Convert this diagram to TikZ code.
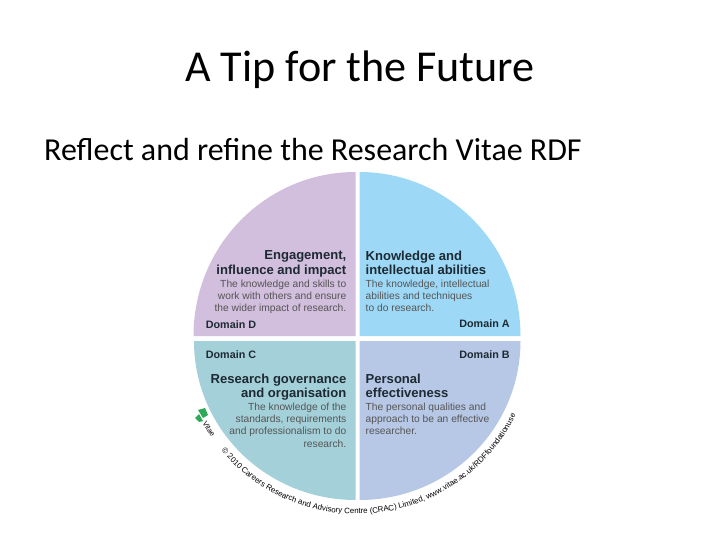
\documentclass[tikz,border=0pt]{standalone}
\usepackage{fontspec}
\setmainfont{Carlito}
\newfontfamily\arialf{Liberation Sans}
\usetikzlibrary{decorations.text}
\definecolor{qd}{HTML}{D2BEDD}
\definecolor{qa}{HTML}{9DD9F6}
\definecolor{qc}{HTML}{A4D0D9}
\definecolor{qb}{HTML}{B7C8E6}
\definecolor{bodycol}{HTML}{555555}
\definecolor{headcol}{HTML}{1E2A33}
\definecolor{logocol}{HTML}{2FA85A}
\tikzset{x=1bp,y=-1bp,
 slidetext/.style={inner sep=0pt,anchor=base west,text=black},
 headr/.style={inner sep=0pt,anchor=north east,align=right,font=\arialf\fontsize{13.1}{14.4}\selectfont\bfseries,text=headcol},
 headl/.style={inner sep=0pt,anchor=north west,align=left,font=\arialf\fontsize{13.1}{14.4}\selectfont\bfseries,text=headcol},
 bodyr/.style={inner sep=0pt,anchor=north east,align=right,font=\arialf\fontsize{10.3}{12.4}\selectfont,text=bodycol},
 bodyl/.style={inner sep=0pt,anchor=north west,align=left,font=\arialf\fontsize{10.3}{12.4}\selectfont,text=bodycol},
 domainlab/.style={inner sep=0pt,anchor=base,font=\arialf\fontsize{10.8}{12}\selectfont\bfseries,text=headcol}}
\begin{document}
\begin{tikzpicture}
\useasboundingbox (0,0) rectangle (720,540);
\fill[white] (0,0) rectangle (720,540);
% quadrants
\fill[qd] (355.5,336) -- (193.5,336) .. controls (193.5,245.4) and (266,172) .. (355.5,172) -- cycle;
\fill[qa] (359.5,336) -- (359.5,172) .. controls (448.5,172) and (520.5,245.4) .. (520.5,336) -- cycle;
\fill[qc] (355.5,341) -- (355.5,500) .. controls (266.3,500) and (194,428.8) .. (194,341) -- cycle;
\fill[qb] (359.5,341) -- (520.5,341) .. controls (520.5,428.8) and (448.5,500) .. (359.5,500) -- cycle;
% titles
\node[slidetext,font=\fontsize{44.3}{52}\selectfont] (title) at (185,82) {A Tip for the Future};
\node[slidetext,font=\fontsize{32.1}{38}\selectfont] (sub) at (44,161) {Reflect and refine the Research Vitae RDF};
% D
\node[headr] (dh) at (346.5,250.5) {Engagement,\\influence and impact};
\node[bodyr] (db) at (346.5,279.5) {The knowledge and skills to\\work with others and ensure\\the wider impact of research.};
\node[domainlab] (dd) at (231,328) {Domain D};
% A
\node[headl] (ah) at (365.5,250.5) {Knowledge and\\intellectual abilities};
\node[bodyl] (ab) at (365.5,279.5) {The knowledge, intellectual\\abilities and techniques\\to do research.};
\node[domainlab] (ad) at (484.5,327) {Domain A};
% C
\node[domainlab] (cd) at (231,358) {Domain C};
\node[headr] (ch) at (346.5,373.5) {Research governance\\and organisation};
\node[bodyr] (cb) at (346.5,402.5) {The knowledge of the\\standards, requirements\\and professionalism to do\\research.};
% B
\node[domainlab] (bd) at (484.5,358) {Domain B};
\node[headl] (bh) at (365.5,373.5) {Personal\\effectiveness};
\node[bodyl] (bb) at (365.5,402.5) {The personal qualities and\\approach to be an effective\\researcher.};
% logo
\fill[logocol] (198,410) -- (205,408) -- (208,415) -- (203,418) -- cycle;
\fill[logocol] (195,418) -- (199,414) -- (203,421) -- (199,422) -- cycle;
% arc text
\node[inner sep=0pt,rotate=-58,font=\arialf\fontsize{7.4}{8}\selectfont] (vit) at (209,429) {Vitae};
\path[postaction={decorate,decoration={text along path,text align=center,
   text={|\arialf\fontsize{7.9}{9}\selectfont|© 2010 Careers Research and Advisory Centre (CRAC) Limited, www.vitae.ac.uk/RDFfoundationuse}}}]
   (219.1,447.9) .. controls (257.4,495.5) and (317.6,520) .. (378.3,512.7) .. controls (439,505.4) and (491.6,467.2) .. (517.4,411.8);
\end{tikzpicture}
\end{document}
